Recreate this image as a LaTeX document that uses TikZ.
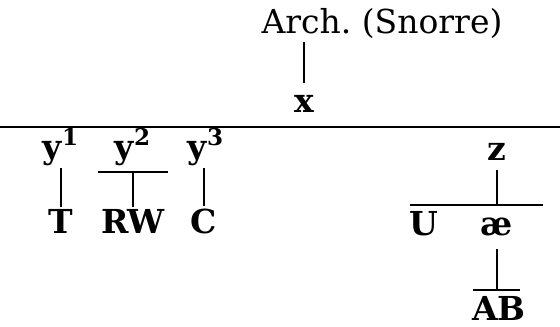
\documentclass[tikz,border=0pt]{standalone}
\usepackage{fontspec}
\setmainfont{DejaVu Serif}
\usepackage{tikz}

\begin{document}
\begin{tikzpicture}[
			x=0.5pt, y=-0.5pt,
			font=\fontsize{16.5}{20}\selectfont,
			lbl/.style={inner sep=1pt, anchor=base},
			sig/.style={lbl, font=\fontsize{16.5}{20}\selectfont\bfseries},
			rule/.style={line width=0.8pt}
			]
			\useasboundingbox (0,0) rectangle (560,326);

			% archetype and the long rule
			\node[lbl] (arch) at (382,34) {Arch.\ (Snorre)};
			\node[sig] (x) at (304,112) {x};
			\coordinate (rulel) at (0,127);
			\coordinate (ruler) at (560,127);
			\draw[rule] (rulel) -- (ruler);
			\draw[rule, shorten >=4.5pt] (x.north |- arch.south) -- (x.north);

			% left branch
			\node[sig] (y1) at (61,158) {y\textsuperscript{1}};
			\node[sig] (y2) at (133,158) {y\textsuperscript{2}};
			\node[sig] (y3) at (206,158) {y\textsuperscript{3}};
			\node[sig] (T) at (61,233) {T};
			\node[sig] (RW) at (133,233) {RW};
			\node[sig] (C) at (204,233) {C};

			\foreach \a/\b in {y1/T, y3/C} {
				\draw[rule] (\a.south -| \b.north) -- (\b.north);
			}
			\coordinate (bartl) at (98,172);
			\coordinate (bartr) at (168,172);
			\draw[rule] (bartl) -- (bartr);
			\draw[rule] (RW.north |- bartl) -- (RW.north);

			% right branch
			\node[sig] (z) at (497,160) {z};
			\node[sig] (U) at (424,235) {U};
			\node[sig] (ae) at (497,235) {æ};
			\node[sig] (AB) at (499,320) {AB};

			\coordinate (barzl) at (410,205);
			\coordinate (barzr) at (543,205);
			\draw[rule] (barzl) -- (barzr);
			\draw[rule, shorten <=4pt] (z.south) -- (z.south |- barzl);

			\coordinate (barabl) at (473,290);
			\coordinate (barabr) at (520,290);
			\draw[rule] (barabl) -- (barabr);
			\draw[rule, shorten <=5.5pt] (ae.south) -- (ae.south |- barabl);

		\end{tikzpicture}
\end{document}
